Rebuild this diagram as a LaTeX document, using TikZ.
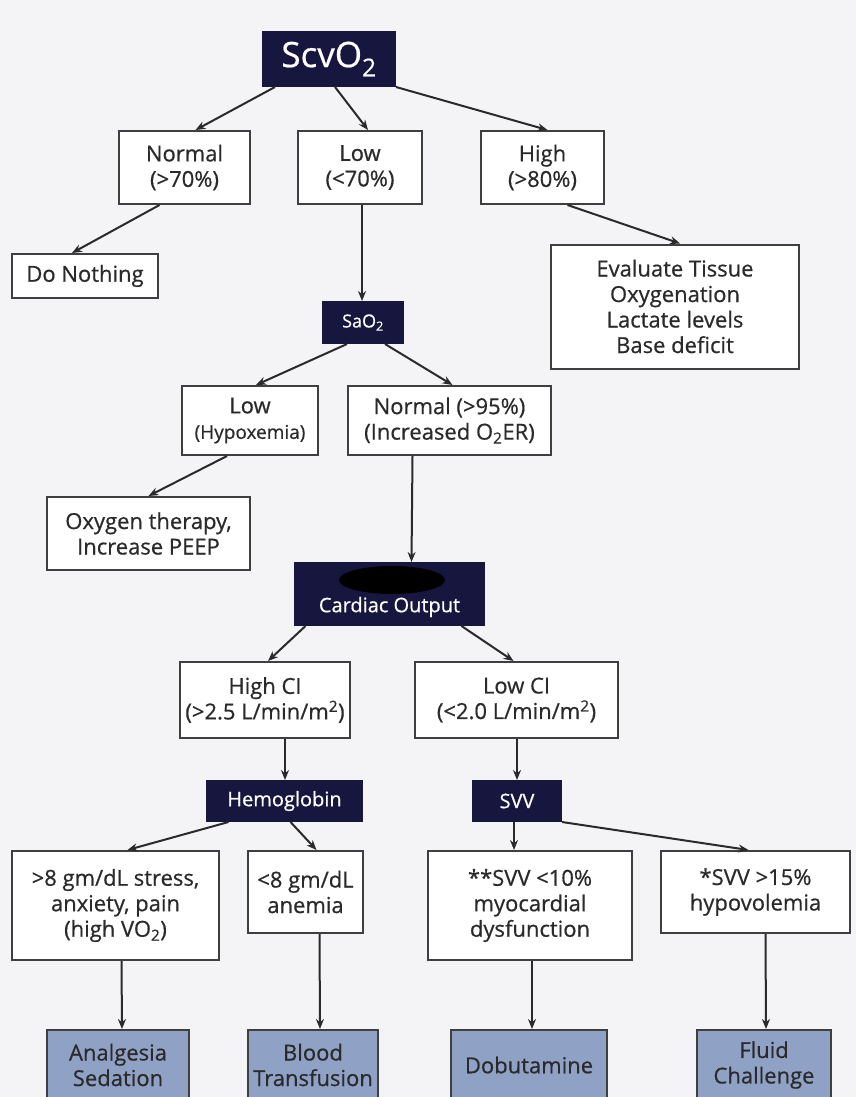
\documentclass[tikz,border=0pt]{standalone}
\usepackage{fontspec}
\setmainfont{Open Sans}[FakeBold=0.6]
\usetikzlibrary{arrows.meta}
\definecolor{navy}{HTML}{16163F}
\definecolor{slate}{HTML}{8FA2C6}
\definecolor{bg}{HTML}{F4F3F6}
\definecolor{ink}{HTML}{2A2A2A}
\tikzset{
  base/.style={draw=ink!90, line width=2pt, inner sep=0pt, align=center, font=\fontsize{22}{25.5}\selectfont},
  wbox/.style={base, fill=white, text=ink},
  dbox/.style={base, draw=navy, fill=navy, text=white},
  gbox/.style={base, fill=slate, text=ink},
  arr/.style={draw=ink, line width=2pt, -{Stealth[length=10pt,width=8pt]}}
}
\begin{document}
\begin{tikzpicture}[x=1pt,y=-1pt]
\fill[bg] (0,0) rectangle (856,1097);
\clip (0,0) rectangle (856,1097);
\node[dbox, minimum width=132pt, minimum height=54pt, font=\fontsize{35}{38}\selectfont] (scv) at (329,59) {ScvO\textsubscript{2}};
\node[wbox, minimum width=131pt, minimum height=73pt] (norm) at (184.5,167.5) {Normal\\(>70\%)};
\node[wbox, minimum width=124pt, minimum height=73pt] (low) at (360,167.5) {Low\\(<70\%)};
\node[wbox, minimum width=123pt, minimum height=73pt] (high) at (542.5,167.5) {High\\(>80\%)};
\node[wbox, minimum width=146pt, minimum height=44pt] (nothing) at (85,276) {Do Nothing};
\node[wbox, minimum width=248pt, minimum height=124pt] (eval) at (675,306.5) {Evaluate Tissue\\Oxygenation\\Lactate levels\\Base deficit};
\node[dbox, minimum width=80pt, minimum height=41pt, font=\fontsize{18}{20}\selectfont] (sao) at (363,322.5) {SaO\textsubscript{2}};
\node[wbox, minimum width=136pt, minimum height=69pt] (lowhyp) at (250,420.5) {Low\\{\fontsize{19}{25.5}\selectfont(Hypoxemia)}};
\node[wbox, minimum width=203pt, minimum height=69pt] (norm95) at (449.5,420.5) {Normal (>95\%)\\(Increased O\textsubscript{2}ER)};
\node[wbox, minimum width=203pt, minimum height=73pt] (oxy) at (148.5,533.5) {Oxygen therapy,\\Increase PEEP};
\node[dbox, minimum width=189pt, minimum height=62pt] (co) at (389.5,594) {};
\fill[black] (392,580) ellipse [x radius=53pt, y radius=14pt];
\node[text=white, font=\fontsize{20}{22}\selectfont] (cotext) at (389.5,607) {Cardiac Output};
\node[wbox, minimum width=170pt, minimum height=76pt] (highci) at (265,700) {High CI\\(>2.5 L/min/m\textsuperscript{2})};
\node[wbox, minimum width=203pt, minimum height=76pt] (lowci) at (516.5,700) {Low CI\\(<2.0 L/min/m\textsuperscript{2})};
\node[dbox, minimum width=155pt, minimum height=40pt, font=\fontsize{20}{22}\selectfont] (hemo) at (284.5,801) {Hemoglobin};
\node[dbox, minimum width=88pt, minimum height=40pt, font=\fontsize{20}{22}\selectfont] (svv) at (517,801) {SVV};
\node[wbox, minimum width=207pt, minimum height=109pt] (gt8) at (115.5,905.5) {>8 gm/dL stress,\\anxiety, pain\\(high VO\textsubscript{2})};
\node[wbox, minimum width=115pt, minimum height=82pt] (lt8) at (305.5,892) {<8 gm/dL\\anemia};
\node[wbox, minimum width=204pt, minimum height=109pt] (svv10) at (530,905.5) {**SVV <10\%\\myocardial\\dysfunction};
\node[wbox, minimum width=189pt, minimum height=82pt] (svv15) at (755.5,892) {*SVV >15\%\\hypovolemia};
\node[gbox, minimum width=142pt, minimum height=70pt] (anal) at (118,1065) {Analgesia\\Sedation};
\node[gbox, minimum width=130pt, minimum height=70pt] (blood) at (313,1065) {Blood\\Transfusion};
\node[gbox, minimum width=156pt, minimum height=70pt] (dobu) at (529,1065) {Dobutamine};
\node[gbox, minimum width=134pt, minimum height=70pt] (fluid) at (764,1065) {Fluid\\Challenge};
% connectors
\draw[arr] ([xshift=-54pt]scv.south) -- ([xshift=11pt]norm.north);
\draw[arr] ([xshift=6pt]scv.south) -- ([xshift=8pt]low.north);
\draw[arr] (scv.south east) -- ([xshift=5pt]high.north);
\draw[arr] ([xshift=-25pt]norm.south) -- ([xshift=-13pt]nothing.north);
\draw[arr] ([xshift=2pt]low.south) -- ([xshift=-1pt]sao.north);
\draw[arr] ([xshift=25pt]high.south) -- ([xshift=5pt]eval.north);
\draw[arr] ([xshift=-16pt]sao.south) -- ([xshift=6pt]lowhyp.north);
\draw[arr] ([xshift=22pt]sao.south) -- ([xshift=3pt]norm95.north);
\draw[arr] ([xshift=-23pt]lowhyp.south) -- (oxy.north);
\draw[arr] ([xshift=-37pt]norm95.south) -- ([xshift=22pt]co.north);
\draw[arr] ([xshift=-84pt]co.south) -- ([xshift=3pt]highci.north);
\draw[arr] ([xshift=72pt]co.south) -- ([xshift=-3pt]lowci.north);
\draw[arr] ([xshift=20pt]highci.south) -- ([xshift=0.5pt]hemo.north);
\draw[arr] ([xshift=0.5pt]lowci.south) -- (svv.north);
\draw[arr] ([xshift=-56pt]hemo.south) -- ([xshift=12pt]gt8.north);
\draw[arr] ([xshift=6pt]hemo.south) -- ([xshift=11pt]lt8.north);
\draw[arr] ([xshift=-3pt]svv.south) -- ([xshift=-16pt]svv10.north);
\draw[arr] (svv.south east) -- ([xshift=-7pt]svv15.north);
\draw[arr] ([xshift=6pt]gt8.south) -- ([xshift=4pt]anal.north);
\draw[arr] ([xshift=14pt]lt8.south) -- ([xshift=7pt]blood.north);
\draw[arr] ([xshift=2pt]svv10.south) -- ([xshift=3pt]dobu.north);
\draw[arr] ([xshift=10pt]svv15.south) -- ([xshift=2pt]fluid.north);
\end{tikzpicture}
\end{document}
